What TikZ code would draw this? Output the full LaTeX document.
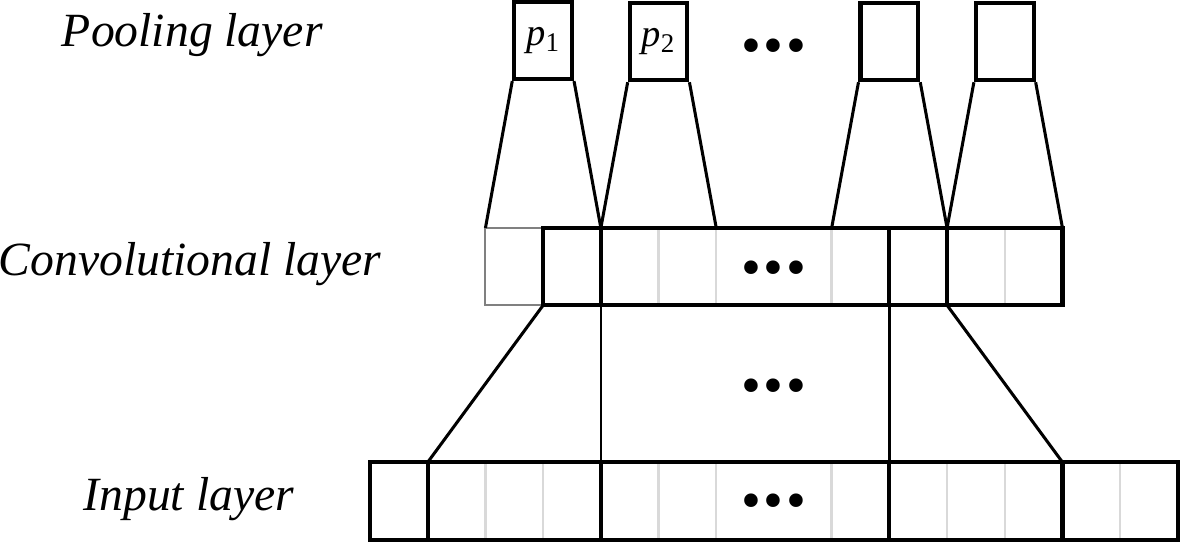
\documentclass[tikz,border=0pt]{standalone}
\usepackage{fontspec}
\setmainfont{Liberation Serif}
\definecolor{cellgray}{gray}{0.85}
\definecolor{edgegray}{gray}{0.5}
\newcommand{\threedots}{\textbullet\hspace{1.5pt}\textbullet\hspace{1.5pt}\textbullet}
\tikzset{
  layer/.style={font=\fontsize{23.5}{28}\selectfont\itshape, inner sep=0pt, anchor=base},
  pool/.style={draw, line width=2pt, minimum width=1cm, minimum height=1.34cm, inner sep=0pt, font=\fontsize{19}{21}\selectfont},
  dots/.style={font=\fontsize{28}{30}\selectfont, inner sep=0pt},
  box/.style={line width=2pt},
  link/.style={line width=1.5pt},
  cell/.style={cellgray, line width=1.2pt}
}

\begin{document}
\begin{tikzpicture}
\useasboundingbox (-6.413,0) rectangle (14.054,-9.41);
% labels
\node[layer] (lpool) at (-3.08,-0.80) {Pooling layer};
\node[layer] (lconv) at (-3.12,-4.78) {Convolutional layer};
\node[layer] (linput) at (-3.14,-8.84) {Input layer};
% pooling layer
\node[pool] (p1) at (3,-0.70) {\textit{p}\textsubscript{1}};
\node[pool] (p2) at (5,-0.72) {\textit{p}\textsubscript{2}};
\node[pool] (p3) at (9,-0.72) {};
\node[pool] (p4) at (11,-0.72) {};
\node[dots] (pdots) at (7,-0.90) {\threedots};
% corners of the cells
\foreach \i in {2,...,12} {
  \coordinate (ct\i) at (\i,-3.95);
  \coordinate (cb\i) at (\i,-5.29);
}
\foreach \i in {0,...,14} {
  \coordinate (it\i) at (\i,-8.01);
  \coordinate (ib\i) at (\i,-9.36);
}
% convolutional layer
\foreach \i in {5,6,8,11} \draw[cell] (ct\i) -- (cb\i);
\draw[edgegray, line width=1pt] (ct2) rectangle (cb3);
\draw[box] (ct3) rectangle (cb12);
\foreach \i in {4,9,10} \draw[box] (ct\i) -- (cb\i);
\node[dots] (cdots) at (7,-4.75) {\threedots};
% input layer
\foreach \i in {2,3,5,6,8,10,11,13} \draw[cell] (it\i) -- (ib\i);
\draw[box] (it0) rectangle (ib14);
\foreach \i in {1,4,9,12} \draw[box] (it\i) -- (ib\i);
\node[dots] (idots) at (7,-8.79) {\threedots};
\node[dots] (mdots) at (7,-6.79) {\threedots};
% pooling windows
\draw[link] (p1.south west) -- (ct2);
\draw[link] (p1.south east) -- (ct4);
\draw[link] (p2.south west) -- (ct4);
\draw[link] (p2.south east) -- (ct6);
\draw[link] (p3.south west) -- (ct8);
\draw[link] (p3.south east) -- (ct10);
\draw[link] (p4.south west) -- (ct10);
\draw[link] (p4.south east) -- (ct12);
% convolution windows
\draw[link] (cb3) -- (it1);
\draw[link, line width=1.3pt] (cb4) -- (it4);
\draw[link, line width=1.3pt] (cb9) -- (it9);
\draw[link] (cb10) -- (it12);
\end{tikzpicture}
\end{document}
